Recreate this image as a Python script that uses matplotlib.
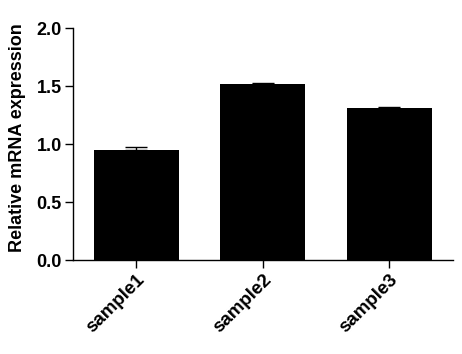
import matplotlib
matplotlib.use('Agg')
import matplotlib.pyplot as plt

samples = ['sample1', 'sample2', 'sample3']
expr = [0.95, 1.52, 1.31]
err = [0.025, 0.008, 0.012]

plt.rcParams['font.family'] = ['Liberation Sans', 'DejaVu Sans']
plt.rcParams['font.weight'] = 'bold'

fig = plt.figure(figsize=(4.62, 3.54), dpi=100)
ax = fig.add_axes([0.158, 0.265, 0.822, 0.655])

x = range(len(samples))
ax.bar(x, expr, width=0.67, color='black')
ax.errorbar(x, expr, yerr=[[0] * 3, err], fmt='none', ecolor='black',
            elinewidth=1, capsize=8, capthick=1)

ax.set_xlim(-0.5, 2.5)
ax.set_ylim(0, 2.0)
ax.set_yticks([0.0, 0.5, 1.0, 1.5, 2.0])
ax.set_yticklabels(['0.0', '0.5', '1.0', '1.5', '2.0'], fontsize=13, fontweight='bold')
ax.set_xticks(list(x))
ax.set_xticklabels(samples, rotation=45, ha='right', rotation_mode='anchor',
                   fontsize=13.5, fontweight='bold')
ax.set_ylabel('Relative mRNA expression', fontsize=13, fontweight='bold')
ax.yaxis.set_label_coords(-0.125, 0.53)

for s in ['top', 'right']:
    ax.spines[s].set_visible(False)
for s in ['left', 'bottom']:
    ax.spines[s].set_linewidth(1)
ax.tick_params(width=1, length=6, direction='out', pad=2)

fig.savefig('out.png', dpi=100)
